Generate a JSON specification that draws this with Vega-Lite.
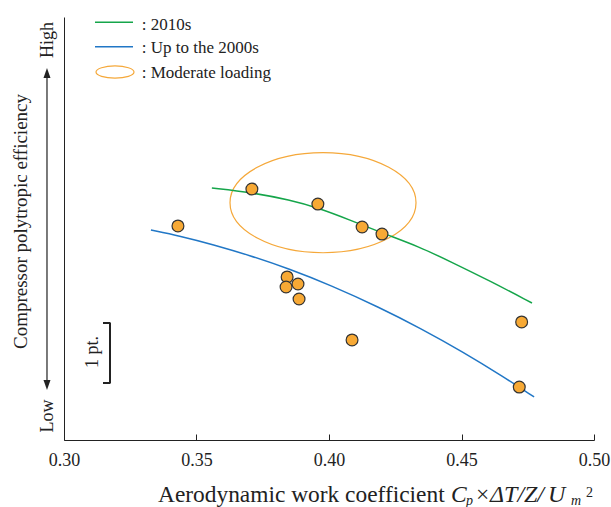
{
  "$schema": "https://vega.github.io/schema/vega-lite/v6.json",
  "width": 530,
  "height": 423,
  "autosize": "none",
  "padding": {"left": 64, "top": 17, "right": 17, "bottom": 67},
  "background": "white",
  "config": {
    "view": {"stroke": null},
    "font": "Liberation Serif",
    "axis": {"grid": false, "domainColor": "#222", "domainWidth": 1, "tickColor": "#222", "labelColor": "#222", "labelFont": "Liberation Serif", "labelFontSize": 18, "titleColor": "#222"}
  },
  "datasets": {
    "points": [
      {"x": 0.3430, "y": 3.567}, {"x": 0.3709, "y": 4.183}, {"x": 0.3958, "y": 3.933},
      {"x": 0.4125, "y": 3.55}, {"x": 0.4200, "y": 3.433}, {"x": 0.3842, "y": 2.717},
      {"x": 0.3838, "y": 2.55}, {"x": 0.3883, "y": 2.6}, {"x": 0.3887, "y": 2.35},
      {"x": 0.4087, "y": 1.667}, {"x": 0.4727, "y": 1.967}, {"x": 0.4718, "y": 0.883}
    ],
    "curves": [
      {"series": "2010s", "x": 0.3558, "y": 4.2},
      {"series": "2010s", "x": 0.3709, "y": 4.125},
      {"series": "2010s", "x": 0.3853, "y": 4.0},
      {"series": "2010s", "x": 0.3958, "y": 3.87},
      {"series": "2010s", "x": 0.4079, "y": 3.667},
      {"series": "2010s", "x": 0.4200, "y": 3.45},
      {"series": "2010s", "x": 0.4343, "y": 3.217},
      {"series": "2010s", "x": 0.4457, "y": 2.975},
      {"series": "2010s", "x": 0.4608, "y": 2.65},
      {"series": "2010s", "x": 0.4766, "y": 2.283},
      {"series": "Up to the 2000s", "x": 0.3328, "y": 3.5},
      {"series": "Up to the 2000s", "x": 0.3438, "y": 3.4},
      {"series": "Up to the 2000s", "x": 0.3562, "y": 3.258},
      {"series": "Up to the 2000s", "x": 0.3702, "y": 3.075},
      {"series": "Up to the 2000s", "x": 0.3853, "y": 2.847},
      {"series": "Up to the 2000s", "x": 0.4004, "y": 2.583},
      {"series": "Up to the 2000s", "x": 0.4192, "y": 2.207},
      {"series": "Up to the 2000s", "x": 0.4343, "y": 1.867},
      {"series": "Up to the 2000s", "x": 0.4506, "y": 1.467},
      {"series": "Up to the 2000s", "x": 0.4657, "y": 1.057},
      {"series": "Up to the 2000s", "x": 0.4774, "y": 0.717}
    ],
    "region": [{"label": "Moderate loading", "x": 0.39774, "y": 3.955}]
  },
  "layer": [
    {
      "data": {"name": "region"},
      "mark": {"type": "point", "filled": false, "size": 34596, "strokeWidth": 1.2, "opacity": 1, "stroke": "#F5A83A",
        "shape": "M-1,0C-1,-0.297,-0.552,-0.538,0,-0.538C0.552,-0.538,1,-0.297,1,0C1,0.297,0.552,0.538,0,0.538C-0.552,0.538,-1,0.297,-1,0Z"},
      "encoding": {
        "x": {"field": "x", "type": "quantitative", "scale": {"domain": [0.3, 0.5], "nice": false, "zero": false},
          "axis": {"title": null, "values": [0.3, 0.35, 0.4, 0.45, 0.5], "format": ".2f", "tickSize": -6, "labelPadding": 17, "labelFlush": false}},
        "y": {"field": "y", "type": "quantitative", "scale": {"domain": [0, 7.05], "nice": false, "zero": false},
          "axis": {"title": "Compressor polytropic efficiency", "ticks": false, "labels": false, "titleFont": "Liberation Serif", "titleFontSize": 19, "titleFontWeight": "normal", "titleAngle": 270, "titleX": -38, "titleY": 204, "titleAlign": "center", "titleBaseline": "alphabetic"}}
      }
    },
    {
      "data": {"name": "curves"},
      "mark": {"type": "line", "interpolate": "basis", "strokeWidth": 1.5},
      "encoding": {
        "x": {"field": "x", "type": "quantitative"},
        "y": {"field": "y", "type": "quantitative"},
        "color": {"field": "series", "type": "nominal", "legend": null,
          "scale": {"domain": ["2010s", "Up to the 2000s"], "range": ["#15A54A", "#2177C6"]}}
      }
    },
    {
      "data": {"name": "points"},
      "mark": {"type": "point", "shape": "circle", "filled": true, "size": 140, "fill": "#F7A935", "stroke": "#333", "strokeWidth": 1.2, "opacity": 1},
      "encoding": {
        "x": {"field": "x", "type": "quantitative"},
        "y": {"field": "y", "type": "quantitative"}
      }
    },
    {
      "data": {"values": [{}]},
      "mark": {"type": "rule", "color": "#15A54A", "strokeWidth": 1.5},
      "encoding": {"x": {"datum": 0.3117}, "x2": {"datum": 0.32604}, "y": {"datum": 6.962}}
    },
    {
      "data": {"values": [{}]},
      "mark": {"type": "rule", "color": "#2177C6", "strokeWidth": 1.5},
      "encoding": {"x": {"datum": 0.3117}, "x2": {"datum": 0.32604}, "y": {"datum": 6.555}}
    },
    {
      "data": {"values": [{}]},
      "mark": {"type": "point", "filled": false, "size": 1444, "strokeWidth": 1.2, "opacity": 1, "stroke": "#F5A83A",
        "shape": "M-1,0C-1,-0.177,-0.552,-0.32,0,-0.32C0.552,-0.32,1,-0.177,1,0C1,0.177,0.552,0.32,0,0.32C-0.552,0.32,-1,0.177,-1,0Z"},
      "encoding": {"x": {"datum": 0.319245}, "y": {"datum": 6.133}}
    },
    {
      "data": {"values": [{}]},
      "mark": {"type": "text", "text": ": 2010s", "align": "left", "baseline": "alphabetic", "font": "Liberation Serif", "fontSize": 17, "color": "#222"},
      "encoding": {"x": {"datum": 0.32932}, "y": {"datum": 6.833}}
    },
    {
      "data": {"values": [{}]},
      "mark": {"type": "text", "text": ": Up to the 2000s", "align": "left", "baseline": "alphabetic", "font": "Liberation Serif", "fontSize": 17, "color": "#222"},
      "encoding": {"x": {"datum": 0.32932}, "y": {"datum": 6.45}}
    },
    {
      "data": {"values": [{}]},
      "mark": {"type": "text", "text": ": Moderate loading", "align": "left", "baseline": "alphabetic", "font": "Liberation Serif", "fontSize": 17, "color": "#222"},
      "encoding": {"x": {"datum": 0.32932}, "y": {"datum": 6.033}}
    },
    {
      "data": {"values": [{}]},
      "mark": {"type": "rule", "color": "#222", "strokeWidth": 1.2},
      "encoding": {"x": {"datum": 0.29358}, "y": {"datum": 6.1}, "y2": {"datum": 0.95}}
    },
    {
      "data": {"values": [{}]},
      "mark": {"type": "point", "filled": true, "color": "#222", "opacity": 1, "size": 100, "shape": "M0,-1L-0.7,1L0.7,1Z"},
      "encoding": {"x": {"datum": 0.29358}, "y": {"datum": 6.117}}
    },
    {
      "data": {"values": [{}]},
      "mark": {"type": "point", "filled": true, "color": "#222", "opacity": 1, "size": 100, "shape": "M0,1L-0.7,-1L0.7,-1Z"},
      "encoding": {"x": {"datum": 0.29358}, "y": {"datum": 0.917}}
    },
    {
      "data": {"values": [{}]},
      "mark": {"type": "text", "text": "High", "angle": 270, "align": "center", "baseline": "alphabetic", "font": "Liberation Serif", "fontSize": 18, "color": "#222"},
      "encoding": {"x": {"datum": 0.29585}, "y": {"datum": 6.667}}
    },
    {
      "data": {"values": [{}]},
      "mark": {"type": "text", "text": "Low", "angle": 270, "align": "center", "baseline": "alphabetic", "font": "Liberation Serif", "fontSize": 18, "color": "#222"},
      "encoding": {"x": {"datum": 0.29585}, "y": {"datum": 0.4}}
    },
    {
      "data": {"values": [{}]},
      "mark": {"type": "rule", "color": "#222", "strokeWidth": 2},
      "encoding": {"x": {"datum": 0.31736}, "y": {"datum": 0.95}, "y2": {"datum": 1.95}}
    },
    {
      "data": {"values": [{}]},
      "mark": {"type": "rule", "color": "#222", "strokeWidth": 2},
      "encoding": {"x": {"datum": 0.31472}, "x2": {"datum": 0.31755}, "y": {"datum": 1.95}}
    },
    {
      "data": {"values": [{}]},
      "mark": {"type": "rule", "color": "#222", "strokeWidth": 2},
      "encoding": {"x": {"datum": 0.31472}, "x2": {"datum": 0.31755}, "y": {"datum": 0.95}}
    },
    {
      "data": {"values": [{}]},
      "mark": {"type": "text", "text": "1 pt.", "angle": 270, "align": "center", "baseline": "alphabetic", "font": "Liberation Serif", "fontSize": 18, "color": "#222"},
      "encoding": {"x": {"datum": 0.31283}, "y": {"datum": 1.467}}
    },
    {
      "data": {"values": [{}]},
      "mark": {"type": "text", "text": "Aerodynamic work coefficient", "align": "left", "baseline": "alphabetic", "font": "Liberation Serif", "fontSize": 23.4, "color": "#222"},
      "encoding": {"x": {"datum": 0.33547}, "y": {"datum": -1.033}}
    },
    {
      "data": {"values": [{}]},
      "mark": {"type": "text", "text": "C", "align": "left", "baseline": "alphabetic", "font": "Liberation Serif", "fontStyle": "italic", "fontSize": 23.5, "color": "#222"},
      "encoding": {"x": {"datum": 0.44604}, "y": {"datum": -1.033}}
    },
    {
      "data": {"values": [{}]},
      "mark": {"type": "text", "text": "p", "align": "left", "baseline": "alphabetic", "font": "Liberation Serif", "fontStyle": "italic", "fontSize": 14, "color": "#222"},
      "encoding": {"x": {"datum": 0.4517}, "y": {"datum": -1.083}}
    },
    {
      "data": {"values": [{}]},
      "mark": {"type": "text", "text": "×", "align": "left", "baseline": "alphabetic", "font": "Liberation Serif", "fontSize": 23.5, "color": "#222"},
      "encoding": {"x": {"datum": 0.45547}, "y": {"datum": -1.033}}
    },
    {
      "data": {"values": [{}]},
      "mark": {"type": "text", "text": "ΔT/", "align": "left", "baseline": "alphabetic", "font": "Liberation Serif", "fontStyle": "italic", "fontSize": 24, "color": "#222"},
      "encoding": {"x": {"datum": 0.46075}, "y": {"datum": -1.033}}
    },
    {
      "data": {"values": [{}]},
      "mark": {"type": "text", "text": "Z/", "align": "left", "baseline": "alphabetic", "font": "Liberation Serif", "fontStyle": "italic", "fontSize": 24, "color": "#222"},
      "encoding": {"x": {"datum": 0.47358}, "y": {"datum": -1.033}}
    },
    {
      "data": {"values": [{}]},
      "mark": {"type": "text", "text": "U", "align": "left", "baseline": "alphabetic", "font": "Liberation Serif", "fontStyle": "italic", "fontSize": 24, "color": "#222"},
      "encoding": {"x": {"datum": 0.48264}, "y": {"datum": -1.033}}
    },
    {
      "data": {"values": [{}]},
      "mark": {"type": "text", "text": "m", "align": "left", "baseline": "alphabetic", "font": "Liberation Serif", "fontStyle": "italic", "fontSize": 14, "color": "#222"},
      "encoding": {"x": {"datum": 0.49132}, "y": {"datum": -1.083}}
    },
    {
      "data": {"values": [{}]},
      "mark": {"type": "text", "text": "2", "align": "left", "baseline": "alphabetic", "font": "Liberation Serif", "fontSize": 14, "color": "#222"},
      "encoding": {"x": {"datum": 0.49698}, "y": {"datum": -0.95}}
    }
  ]
}
